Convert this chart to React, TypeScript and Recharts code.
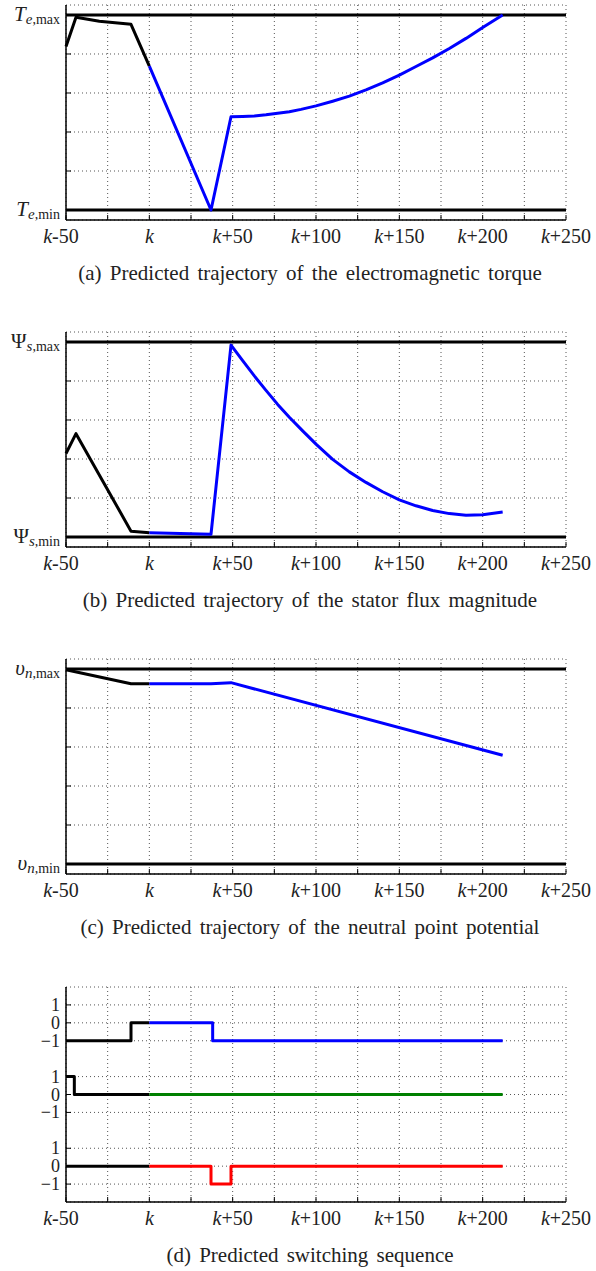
import React from 'react';
import { LineChart, Line, XAxis, YAxis, CartesianGrid, ReferenceLine } from 'recharts';

const FONT = 'Liberation Serif, Times New Roman, serif';

// shared x axis (samples relative to k)
const xTicks = [-50, -25, 0, 25, 50, 75, 100, 125, 150, 175, 200, 225, 250];
const limitTicks = [0, 1, 2, 3, 4, 5];
const switchTicks = [-1, 0, 1, 3, 4, 5, 7, 8, 9];

// (a) electromagnetic torque
const torquePastK = [-50, -44, -30, -11, 0];
const torquePast = [4.19, 4.94, 4.84, 4.76, 3.69];
const torquePredK = [0, 37, 49, 56, 63, 70, 77, 84, 91, 100, 110, 120, 130, 140, 150, 160, 170, 180, 190, 200, 212];
const torquePred = [3.69, 0, 2.39, 2.4, 2.41, 2.44, 2.48, 2.52, 2.58, 2.67, 2.79, 2.92, 3.08, 3.26, 3.46, 3.68, 3.9, 4.14, 4.4, 4.68, 5.0];

// (b) stator flux magnitude
const fluxPastK = [-50, -44, -11, 0];
const fluxPast = [2.14, 2.65, 0.15, 0.11];
const fluxPredK = [0, 37, 49, 56, 63, 70, 77, 84, 92, 100, 110, 120, 130, 140, 150, 160, 170, 180, 190, 200, 212];
const fluxPred = [0.11, 0.07, 4.92, 4.52, 4.13, 3.76, 3.4, 3.07, 2.72, 2.38, 1.99, 1.67, 1.4, 1.16, 0.95, 0.8, 0.68, 0.6, 0.56, 0.57, 0.64];

// (c) neutral point potential
const nppPastK = [-50, -11, 0];
const nppPast = [4.98, 4.62, 4.62];
const nppPredK = [0, 37, 49, 212];
const nppPred = [4.62, 4.62, 4.65, 2.79];

// (d) switching sequence, one row per phase
const phaseAPastK = [-50, -11, 0];
const phaseAPast = [-1, 0, 0];
const phaseAPredK = [0, 38, 212];
const phaseAPred = [0, -1, -1];
const phaseBPastK = [-50, -45, 0];
const phaseBPast = [1, 0, 0];
const phaseBPredK = [0, 212];
const phaseBPred = [0, 0];
const phaseCPastK = [-50, 0];
const phaseCPast = [0, 0];
const phaseCPredK = [0, 37, 49, 212];
const phaseCPred = [0, -1, 0, 0];

const toPoints = (ks: number[], vs: number[], offset = 0) =>
  ks.map((k, i) => ({ k, v: vs[i] + offset }));

const XTick = (props: any) => {
  const { x, y, payload } = props;
  const v = payload.value;
  if (v % 50 !== 0) return <g />;
  const rest = v === 0 ? '' : v < 0 ? String(v) : `+${v}`;
  return (
    <text x={x + (v < 0 ? -5 : 0)} y={y + 28} textAnchor="middle" style={{ fontFamily: FONT }} fontSize={20} fill="#222">
      <tspan fontStyle="italic">k</tspan>
      {rest}
    </text>
  );
};

const NoTick = () => <g />;

const limitLabel = (sym: string, symItalic: boolean, sub: string) => (props: any) => {
  const { x, y, payload } = props;
  const v = payload.value;
  if (v !== 0 && v !== 5) return <g />;
  return (
    <text x={x} y={y + 6} textAnchor="end" style={{ fontFamily: FONT }} fontSize={21} fill="#222">
      <tspan fontStyle={symItalic ? 'italic' : 'normal'}>{sym}</tspan>
      <tspan fontStyle="italic" fontSize={15} dy={3}>{sub}</tspan>
      <tspan fontSize={14}>{v === 5 ? ',max' : ',min'}</tspan>
    </text>
  );
};

const SwitchTick = (props: any) => {
  const { x, y, payload } = props;
  const v = payload.value;
  const off = v >= 6 ? 8 : v >= 2 ? 4 : 0;
  const d = v - off;
  return (
    <text x={x} y={y + 6} textAnchor="end" style={{ fontFamily: FONT }} fontSize={18} fill="#222">
      {d < 0 ? '\u22121' : String(d)}
    </text>
  );
};

interface Series {
  data: { k: number; v: number }[];
  color: string;
}

interface PanelProps {
  top: number;
  caption: string;
  yDomain: number[];
  yTicks: number[];
  yTick: any;
  series: Series[];
  limits?: number[];
  step?: boolean;
}

const Panel = ({ top, caption, yDomain, yTicks, yTick, series, limits = [], step = false }: PanelProps) => (
  <div style={{ position: 'absolute', top, left: 0, width: 596, height: 300 }}>
    <LineChart width={596} height={250} margin={{ top: 5, right: 30, bottom: 0, left: 6 }}>
      <CartesianGrid stroke="#555" strokeDasharray="1 3" />
      <XAxis
        dataKey="k"
        type="number"
        domain={[-50, 250]}
        ticks={xTicks}
        height={30}
        tickSize={-5}
        tickMargin={0}
        interval={0}
        axisLine={{ stroke: '#000', strokeWidth: 1.5 }}
        tickLine={{ stroke: '#000' }}
        tick={<XTick />}
      />
      <XAxis
        xAxisId="top"
        orientation="top"
        dataKey="k"
        type="number"
        domain={[-50, 250]}
        ticks={xTicks}
        height={0}
        tickSize={-5}
        interval={0}
        axisLine={{ stroke: '#000', strokeWidth: 1.5 }}
        tickLine={{ stroke: '#000' }}
        tick={<NoTick />}
      />
      <YAxis
        type="number"
        domain={yDomain}
        ticks={yTicks}
        width={60}
        tickSize={-5}
        tickMargin={11}
        interval={0}
        allowDataOverflow
        axisLine={{ stroke: '#000', strokeWidth: 1.5 }}
        tickLine={{ stroke: '#000' }}
        tick={yTick}
      />
      <YAxis
        yAxisId="right"
        orientation="right"
        type="number"
        domain={yDomain}
        ticks={yTicks}
        width={0}
        tickSize={-5}
        interval={0}
        allowDataOverflow
        axisLine={{ stroke: '#000', strokeWidth: 1.5 }}
        tickLine={{ stroke: '#000' }}
        tick={<NoTick />}
      />
      {limits.map((l) => (
        <ReferenceLine key={l} y={l} stroke="#000" strokeWidth={3} />
      ))}
      {series.map((s, i) => (
        <Line
          key={i}
          data={s.data}
          dataKey="v"
          type={step ? 'stepAfter' : 'linear'}
          stroke={s.color}
          strokeWidth={3}
          strokeLinejoin="round"
          dot={false}
          isAnimationActive={false}
        />
      ))}
    </LineChart>
    <svg width={596} height={40} style={{ position: 'absolute', top: 258, left: 0 }}>
      <text x={310} y={22} textAnchor="middle" style={{ fontFamily: FONT }} fontSize={21} fill="#222" wordSpacing={3}>
        {caption}
      </text>
    </svg>
  </div>
);

const LIMIT_DOMAIN = [-0.2564, 5.2564];

export default function App() {
  return (
    <div style={{ position: 'absolute', top: 0, left: 0, width: 596, height: 1271, background: '#fff' }}>
      <Panel
        top={0}
        caption="(a) Predicted trajectory of the electromagnetic torque"
        yDomain={LIMIT_DOMAIN}
        yTicks={limitTicks}
        yTick={limitLabel('T', true, 'e')}
        limits={[0, 5]}
        series={[
          { data: toPoints(torquePastK, torquePast), color: '#000' },
          { data: toPoints(torquePredK, torquePred), color: '#0000ff' },
        ]}
      />
      <Panel
        top={327}
        caption="(b) Predicted trajectory of the stator flux magnitude"
        yDomain={LIMIT_DOMAIN}
        yTicks={limitTicks}
        yTick={limitLabel('\u03A8', false, 's')}
        limits={[0, 5]}
        series={[
          { data: toPoints(fluxPastK, fluxPast), color: '#000' },
          { data: toPoints(fluxPredK, fluxPred), color: '#0000ff' },
        ]}
      />
      <Panel
        top={654}
        caption="(c) Predicted trajectory of the neutral point potential"
        yDomain={LIMIT_DOMAIN}
        yTicks={limitTicks}
        yTick={limitLabel('\u03C5', true, 'n')}
        limits={[0, 5]}
        series={[
          { data: toPoints(nppPastK, nppPast), color: '#000' },
          { data: toPoints(nppPredK, nppPred), color: '#0000ff' },
        ]}
      />
      <Panel
        top={982}
        caption="(d) Predicted switching sequence"
        yDomain={[-2, 10]}
        yTicks={switchTicks}
        yTick={<SwitchTick />}
        step
        series={[
          { data: toPoints(phaseAPastK, phaseAPast, 8), color: '#000' },
          { data: toPoints(phaseAPredK, phaseAPred, 8), color: '#0000ff' },
          { data: toPoints(phaseBPastK, phaseBPast, 4), color: '#000' },
          { data: toPoints(phaseBPredK, phaseBPred, 4), color: '#008000' },
          { data: toPoints(phaseCPastK, phaseCPast), color: '#000' },
          { data: toPoints(phaseCPredK, phaseCPred), color: '#ff0000' },
        ]}
      />
    </div>
  );
}
